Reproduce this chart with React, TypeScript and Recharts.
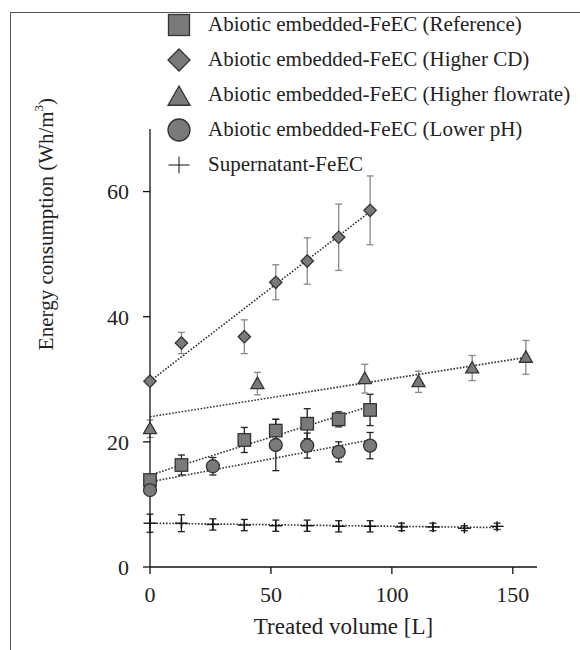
import React from 'react';
import { ComposedChart, Scatter, XAxis, YAxis, ErrorBar, ReferenceLine, Legend } from 'recharts';

// Abiotic embedded-FeEC (Reference)
const refX = [0, 13, 39, 52, 65, 78, 91];
const refY = [13.9, 16.3, 20.3, 21.8, 22.9, 23.6, 25.1];
const refErr = [0.8, 1.6, 2.0, 1.8, 2.4, 1.2, 2.5];
const refFit = [[0, 14.7], [91, 25.7]];

// Abiotic embedded-FeEC (Higher CD)
const cdX = [0, 13, 39, 52, 65, 78, 91];
const cdY = [29.7, 35.8, 36.8, 45.5, 48.9, 52.7, 57.0];
const cdErr = [0.5, 1.7, 2.7, 2.8, 3.7, 5.3, 5.5];
const cdFit = [[0, 29.7], [91, 56.8]];

// Abiotic embedded-FeEC (Higher flowrate)
const flowX = [0, 44.4, 88.8, 111, 133.2, 155.4];
const flowY = [22.1, 29.3, 30.1, 29.6, 31.8, 33.5];
const flowErr = [1.4, 1.8, 2.3, 1.7, 2.0, 2.7];
const flowFit = [[0, 24.0], [155.4, 33.5]];

// Abiotic embedded-FeEC (Lower pH)
const phX = [0, 26, 52, 65, 78, 91];
const phY = [12.3, 16.1, 19.5, 19.4, 18.4, 19.4];
const phErr = [0.6, 1.4, 4.1, 2.0, 1.6, 2.1];
const phFit = [[0, 13.6], [91, 20.3]];

// Supernatant-FeEC
const supX = [0, 13, 26, 39, 52, 65, 78, 91, 104, 117, 130, 143.5];
const supY = [7.0, 7.0, 6.8, 6.7, 6.6, 6.6, 6.5, 6.5, 6.4, 6.4, 6.2, 6.5];
const supErr = [1.45, 1.35, 0.9, 0.9, 0.9, 0.9, 0.9, 0.9, 0.6, 0.6, 0.4, 0.5];
const supFit = [[0, 7.0], [143.5, 6.3]];

const xTicks = [0, 50, 100, 150];
const yTicks = [0, 20, 40, 60];

const FONT = 'Liberation Serif, Tinos, DejaVu Serif, serif';
const FILL = '#7a7a7a';
const EDGE = '#333';

const toPoints = (xs: number[], ys: number[], es: number[]) =>
  xs.map((x, i) => ({ x, y: ys[i], err: es[i] }));

const Square = ({ cx, cy, s = 12.5 }: any) => (
  <rect x={cx - s / 2} y={cy - s / 2} width={s} height={s} fill={FILL} stroke={EDGE} strokeWidth={1.3} />
);
const Diamond = ({ cx, cy, s = 6.2 }: any) => (
  <polygon points={`${cx},${cy - s} ${cx + s},${cy} ${cx},${cy + s} ${cx - s},${cy}`} fill={FILL} stroke={EDGE} strokeWidth={1.3} />
);
const Triangle = ({ cx, cy, s = 6.5 }: any) => (
  <polygon points={`${cx},${cy - s} ${cx + s},${cy + s * 0.75} ${cx - s},${cy + s * 0.75}`} fill={FILL} stroke={EDGE} strokeWidth={1.3} />
);
const Circle = ({ cx, cy, s = 6.5 }: any) => (
  <circle cx={cx} cy={cy} r={s} fill={FILL} stroke={EDGE} strokeWidth={1.3} />
);
const Cross = ({ cx, cy, s = 6.5, w = 1.4 }: any) => (
  <g stroke="#111" strokeWidth={w}>
    <line x1={cx - s} y1={cy} x2={cx + s} y2={cy} />
    <line x1={cx} y1={cy - s * 0.8} x2={cx} y2={cy + s * 0.8} />
  </g>
);

const series = [
  { name: 'Abiotic embedded-FeEC (Reference)', data: toPoints(refX, refY, refErr), fit: refFit, Shape: Square, bar: '#222' },
  { name: 'Abiotic embedded-FeEC (Higher CD)', data: toPoints(cdX, cdY, cdErr), fit: cdFit, Shape: Diamond, bar: '#888' },
  { name: 'Abiotic embedded-FeEC (Higher flowrate)', data: toPoints(flowX, flowY, flowErr), fit: flowFit, Shape: Triangle, bar: '#888' },
  { name: 'Abiotic embedded-FeEC (Lower pH)', data: toPoints(phX, phY, phErr), fit: phFit, Shape: Circle, bar: '#222' },
  { name: 'Supernatant-FeEC', data: toPoints(supX, supY, supErr), fit: supFit, Shape: Cross, bar: '#222' },
];

const legendIcon = (i: number) => {
  if (i === 0) return <Square cx={14} cy={14} s={21} />;
  if (i === 1) return <Diamond cx={14} cy={14} s={11} />;
  if (i === 2) return <Triangle cx={14} cy={16} s={11} />;
  if (i === 3) return <Circle cx={14} cy={14} s={11} />;
  return <Cross cx={14} cy={14} s={10.5} w={1} />;
};

const renderLegend = () => (
  <div style={{ fontFamily: FONT, fontSize: 21, color: '#222' }}>
    {series.map((s, i) => (
      <div key={s.name} style={{ display: 'flex', alignItems: 'center', height: 35 }}>
        <svg width={28} height={28} style={{ flex: 'none' }}>{legendIcon(i)}</svg>
        <span style={{ marginLeft: 15, whiteSpace: 'nowrap' }}>{s.name}</span>
      </div>
    ))}
  </div>
);

const YLabel = () => (
  <text x={46} y={224} transform="rotate(-90 46 224)" textAnchor="middle" dominantBaseline="central"
    fontFamily={FONT} fontSize={21} fill="#222">
    Energy consumption (Wh/m<tspan fontSize={13} dy={-8}>3</tspan><tspan dy={8}>)</tspan>
  </text>
);

export default function App() {
  return (
    <div style={{ position: 'absolute', left: 0, top: 0, width: 580, height: 650, overflow: 'hidden', background: '#fff' }}>
      <div style={{ position: 'absolute', left: 10, top: 12, width: 620, height: 700, borderLeft: '1px solid #555', borderTop: '1px solid #555' }} />
      <ComposedChart width={580} height={650} margin={{ top: 129, right: 43, bottom: 13, left: 90 }}>
        <XAxis type="number" dataKey="x" domain={[0, 160]} ticks={xTicks} height={70}
          tickSize={7} tickMargin={12}
          axisLine={{ stroke: '#111', strokeWidth: 1.3 }} tickLine={{ stroke: '#111', strokeWidth: 1.3 }}
          tick={{ fontSize: 22, fontFamily: FONT, fill: '#222' }}
          label={{ value: 'Treated volume [L]', position: 'insideBottom', offset: 3, fontSize: 23, fontFamily: FONT, fill: '#222' }} />
        <YAxis type="number" dataKey="y" domain={[0, 70]} ticks={yTicks} width={60}
          tickSize={7} tickMargin={14}
          axisLine={{ stroke: '#111', strokeWidth: 1.3 }} tickLine={{ stroke: '#111', strokeWidth: 1.3 }}
          tick={{ fontSize: 22, fontFamily: FONT, fill: '#222' }}
          label={<YLabel />} />
        {series.map((s) => (
          <Scatter key={s.name} name={s.name} data={s.data} shape={s.Shape} isAnimationActive={false}>
            <ErrorBar dataKey="err" direction="y" width={3.5} stroke={s.bar} strokeWidth={1.3} />
          </Scatter>
        ))}
        {series.map((s) => (
          <ReferenceLine key={'fit-' + s.name}
            segment={[{ x: s.fit[0][0], y: s.fit[0][1] }, { x: s.fit[1][0], y: s.fit[1][1] }]}
            stroke="#333" strokeWidth={1.6} strokeDasharray="1.6 1.6" />
        ))}
        <Legend layout="vertical" verticalAlign="middle" align="center" content={renderLegend}
          wrapperStyle={{ position: 'absolute', left: 165, top: 7, width: 410 }} />
      </ComposedChart>
    </div>
  );
}
